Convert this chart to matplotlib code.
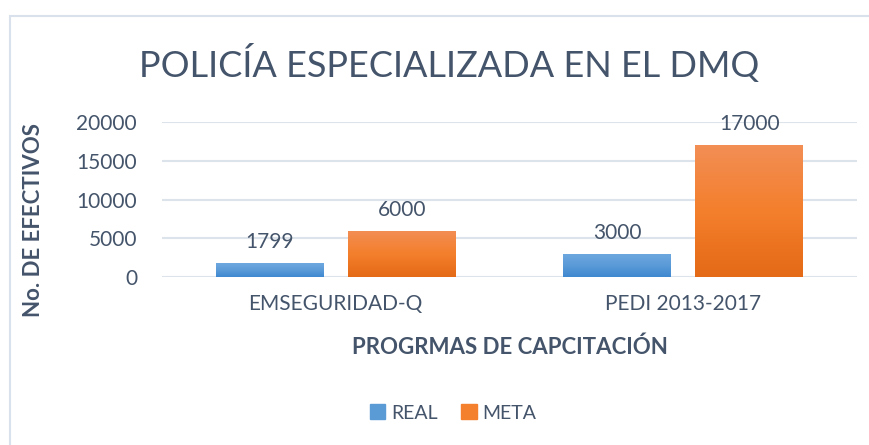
import numpy as np
import matplotlib
matplotlib.use('Agg')
import matplotlib.pyplot as plt
from matplotlib.patches import Rectangle
from matplotlib.colors import LinearSegmentedColormap

# datos
programas = ['EMSEGURIDAD-Q', 'PEDI 2013-2017']
real = [1799, 3000]
meta = [6000, 17000]
yticks = [0, 5000, 10000, 15000, 20000]

plt.rcParams['font.family'] = ['Lato', 'DejaVu Sans']
txt = '#44546A'

fig = plt.figure(figsize=(8.7, 4.45), dpi=100)
# marco del grafico
fig.patches.append(Rectangle((10 / 870, -0.1), 1.2, 1 - 16 / 445 + 0.1,
                             transform=fig.transFigure, fill=False,
                             edgecolor='#D9E1EC', linewidth=1.5))

ax = fig.add_axes([162 / 870, 1 - 277 / 445, 695 / 870, 155 / 445])
x = np.arange(len(programas))
w = 0.31
off = 0.19

cm_blue = LinearSegmentedColormap.from_list('b', ['#3F88D0', '#5B9BD8', '#6FA8E0'])
cm_orange = LinearSegmentedColormap.from_list('o', ['#E46A17', '#F47F2C', '#F28E55'])

grad = np.linspace(0, 1, 256).reshape(-1, 1)
for vals, pos, cmap in [(real, x - off, cm_blue), (meta, x + off, cm_orange)]:
    bars = ax.bar(pos, vals, w, color='none', zorder=3)
    for b, v in zip(bars, vals):
        im = ax.imshow(grad, cmap=cmap, origin='lower', aspect='auto',
                       extent=[b.get_x(), b.get_x() + b.get_width(), 0, v], zorder=3)
        im.set_clip_path(b)
        ax.text(b.get_x() + b.get_width() / 2, v + 1400, str(v), ha='center',
                va='bottom', fontsize=15, color=txt)

ax.set_xlim(-0.5, 1.5)
ax.set_ylim(0, 20000)
ax.set_yticks(yticks)
ax.set_xticks(x)
ax.set_xticklabels(programas)
ax.tick_params(length=0, labelsize=15, labelcolor=txt)
ax.tick_params(axis='y', pad=18)
ax.tick_params(axis='x', pad=12)
ax.grid(axis='y', color='#DDE3EA', linewidth=1.5, zorder=0)
for s in ax.spines.values():
    s.set_visible(False)

ax.set_ylabel('No. DE EFECTIVOS', fontsize=16, fontweight='bold', color=txt)
ax.yaxis.set_label_coords((33 - 162) / 695, (277 - 220) / 155)
ax.set_xlabel('PROGRMAS DE CAPCITACIÓN', fontsize=16, fontweight='bold', color=txt)
ax.xaxis.set_label_coords((510 - 162) / 695, -(347 - 277) / 155)
ax.xaxis.label.set_va('center')
ax.yaxis.label.set_va('center')

fig.text(449 / 870, 1 - 64 / 445, 'POLICÍA ESPECIALIZADA EN EL DMQ', ha='center',
         va='center', fontsize=26, color=txt)

h1 = Rectangle((0, 0), 1, 1, color='#5B9BD5')
h2 = Rectangle((0, 0), 1, 1, color='#F47F2C')
fig.legend([h1, h2], ['REAL', 'META'], loc='center', bbox_to_anchor=(453 / 870, 1 - 413 / 445),
           ncol=2, frameon=False, fontsize=14, labelcolor=txt, handlelength=0.8,
           handleheight=0.8, handletextpad=0.3, columnspacing=1.2)

fig.savefig('out.png', dpi=100)
